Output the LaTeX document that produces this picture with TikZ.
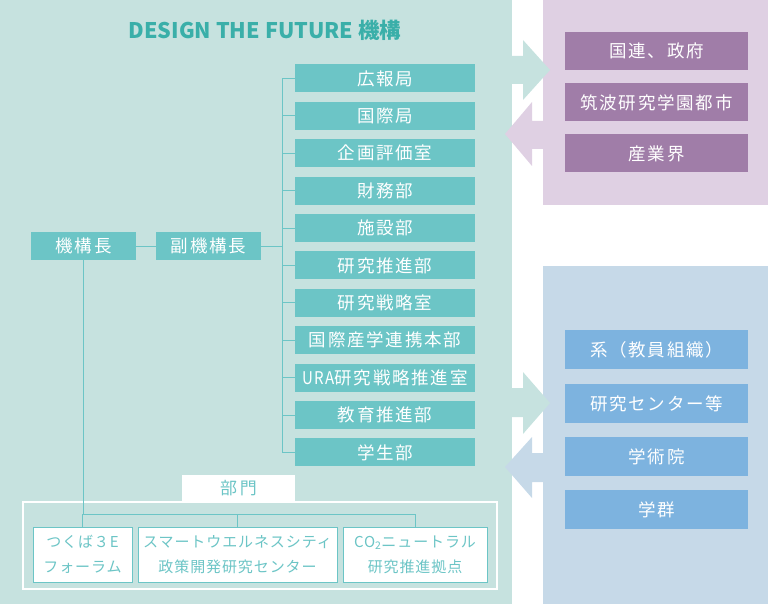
\documentclass[tikz,border=0pt]{standalone}
\usepackage{fontspec}
\setmainfont{Noto Sans CJK JP}
\newfontfamily\jpsp[LetterSpace=10]{Noto Sans CJK JP}
\newfontfamily\jpsq[LetterSpace=6]{Noto Sans CJK JP}
\definecolor{greenbg}{HTML}{C6E2DF}
\definecolor{tealbox}{HTML}{6CC5C6}
\definecolor{titlec}{HTML}{3AAFA9}
\definecolor{purplebg}{HTML}{DFD0E3}
\definecolor{purplebox}{HTML}{A07DA8}
\definecolor{bluebg}{HTML}{C6D9E8}
\definecolor{bluebox}{HTML}{7DB3DF}
\tikzset{
  unit/.style={fill=tealbox, text=white, minimum width=180pt, minimum height=28pt, inner sep=0pt, font=\jpsp\fontsize{17.5}{19}\selectfont},
  head/.style={unit, minimum width=105pt},
  pbox/.style={fill=purplebox, text=white, minimum width=183pt, minimum height=38pt, inner sep=0pt, font=\jpsp\fontsize{17.5}{19}\selectfont},
  bbox/.style={fill=bluebox, text=white, minimum width=183pt, minimum height=39pt, inner sep=0pt, font=\jpsp\fontsize{17.5}{19}\selectfont},
  dept/.style={fill=white, draw=tealbox, line width=1pt, text=tealbox, minimum height=55pt, inner sep=0pt, align=center, font=\jpsq\fontsize{15}{25}\selectfont},
  conn/.style={draw=tealbox, line width=1pt},
}
\begin{document}
\begin{tikzpicture}[x=1pt,y=-1pt]
\useasboundingbox (0,0) rectangle (768,604);
% panels
\fill[greenbg] (0,0) rectangle (512,604);
\fill[purplebg] (543,0) rectangle (768,205);
\fill[bluebg] (543,266) rectangle (768,604);
% arrows
\fill[greenbg] (510,56) -- (523,56) -- (523,40) -- (550,70) -- (523,100) -- (523,84) -- (510,84) -- cycle;
\fill[purplebg] (545,121) -- (532,121) -- (532,102) -- (505,134) -- (532,166) -- (532,149) -- (545,149) -- cycle;
\fill[greenbg] (510,388) -- (523,388) -- (523,372) -- (550,403) -- (523,434) -- (523,417) -- (510,417) -- cycle;
\fill[bluebg] (545,453) -- (532,453) -- (532,437) -- (505,467) -- (532,498) -- (532,482) -- (545,482) -- cycle;
% title
\node[text=titlec, font=\fontsize{21.5}{24}\selectfont\bfseries] (title) at (265,30) {DESIGN THE FUTURE 機構};
% head nodes
\node[head] (chief) at (83.5,246) {機構長};
\node[head] (vice) at (208.5,246) {副機構長};
% units
\foreach \t [count=\i] in {広報局,国際局,企画評価室,財務部,施設部,研究推進部,研究戦略室,国際産学連携本部,{\scalebox{0.86}[1]{URA}研究戦略推進室},教育推進部,学生部}{
  \node[unit] (u\i) at (385,{41+37.4*\i}) {\t};
}
\coordinate (trunkTop) at (282,78.4);
\coordinate (trunkBot) at (282,452.4);
\draw[conn] (trunkTop) -- (trunkBot);
\foreach \i in {1,...,11}{
  \draw[conn] (u\i.west) -- (u\i.west -| trunkTop);
}
\draw[conn] (chief) -- (vice);
\draw[conn] (vice.east) -- (vice.east -| trunkTop);
% purple boxes
\node[pbox] (p1) at (656.5,51) {国連、政府};
\node[pbox] (p2) at (656.5,102.5) {筑波研究学園都市};
\node[pbox] (p3) at (656.5,153.5) {産業界};
% blue boxes
\node[bbox] (b1) at (656.5,349.5) {系（教員組織）};
\node[bbox] (b2) at (656.5,403.5) {研究センター等};
\node[bbox] (b3) at (656.5,456.5) {学術院};
\node[bbox] (b4) at (656.5,509.5) {学群};
% bottom section
\draw[white, line width=1.2pt] (23,502) rectangle (497,589);
\node[fill=white, text=tealbox, minimum width=113pt, minimum height=27pt, inner sep=0pt, font=\jpsp\fontsize{17}{18}\selectfont] (bumon) at (238.5,488.5) {部\,門};
\node[dept, minimum width=99pt] (d1) at (82.5,554.5) {つくば３E\\フォーラム};
\node[dept, minimum width=199pt] (d2) at (237.5,554.5) {スマートウエルネスシティ\\政策開発研究センター};
\node[dept, minimum width=144pt] (d3) at (415,554.5) {CO\textsubscript{2}ニュートラル\\研究推進拠点};
\coordinate (bus) at (0,514);
\draw[conn] (chief.south) -- (chief.south |- bus) -- (d3.north |- bus) -- (d3.north);
\draw[conn] (d1.north |- bus) -- (d1.north);
\draw[conn] (d2.north |- bus) -- (d2.north);
\end{tikzpicture}
\end{document}
